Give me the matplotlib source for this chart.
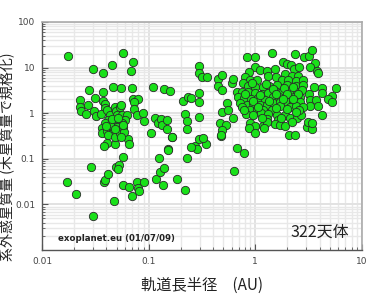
import matplotlib
matplotlib.use('Agg')
import matplotlib.pyplot as plt
from matplotlib.ticker import FixedLocator, LogLocator, NullFormatter

plt.rcParams['font.family'] = ['Noto Sans CJK JP', 'DejaVu Sans']

# 軌道長半径 (AU)
a_au = [
    0.0177, 0.030, 0.037, 0.045, 0.057, 0.072, 0.068, 0.11, 0.14, 0.16,
    0.21, 0.235, 0.22, 0.23, 0.23,
    0.0227, 0.0227, 0.0231, 0.0257, 0.0278, 0.0272, 0.0312, 0.031, 0.0319, 0.0371,
    0.0376, 0.0387, 0.039, 0.0357, 0.046, 0.0547, 0.0698, 0.0707, 0.080, 0.0724,
    0.0733, 0.0773, 0.0879, 0.0898, 0.1045, 0.115, 0.1216, 0.1305, 0.1325, 0.1476,
    0.1476, 0.1665, 0.153, 0.0636, 0.065, 0.0483, 0.041, 0.0384,
    0.0404, 0.0434, 0.0483, 0.0494, 0.0538, 0.0502, 0.0559, 0.0622, 0.060, 0.0559,
    0.0508, 0.046, 0.0419, 0.039, 0.0363, 0.0363, 0.0404, 0.045, 0.0502, 0.046,
    0.0519, 0.0419, 0.0483, 0.0538, 0.0571, 0.0591, 0.0434,
    0.017, 0.0208, 0.0288, 0.0303, 0.0384, 0.0392, 0.0413, 0.0494, 0.0527, 0.052,
    0.0578, 0.0473, 0.0571, 0.0658, 0.0703, 0.0783, 0.080, 0.0818, 0.0904, 0.117,
    0.124, 0.128, 0.135, 0.139, 0.153, 0.1845, 0.219, 0.228,
    0.167, 0.27, 0.284, 0.298, 0.347, 0.476, 0.673, 0.778, 0.627, 0.321,
    0.294, 0.298, 0.316, 0.298, 0.294, 0.298, 0.249, 0.0556, 0.252,
    0.355, 0.45, 0.484, 0.45, 0.49, 0.60, 0.613, 0.669, 0.54, 0.484,
    0.55, 0.622, 0.466, 0.527, 0.49, 0.476,
    0.83, 0.993, 1.43, 2.37, 2.88, 3.21, 3.42, 3.62, 3.26, 3.81, 3.85,
    1.83, 1.97, 2.15, 2.3, 2.55, 0.993, 1.11, 1.28, 1.53, 0.873,
    0.80, 0.891, 1.03, 1.32, 1.56, 1.9, 2.19, 2.53, 1.77, 2.04,
    2.4, 2.82, 0.771, 0.859, 1.0, 1.17, 1.35, 1.61, 1.97, 2.4,
    2.78, 0.745, 0.859, 0.993, 1.15, 1.32, 1.53, 1.77, 2.11, 2.44,
    2.72, 0.693, 0.788, 0.91, 1.07, 1.23, 1.45, 1.68, 1.97, 2.3,
    2.62, 3.2, 3.57, 4.25, 4.2, 5.66, 5.27, 4.83, 5.2,
    0.718, 0.83, 0.957, 1.11, 1.28, 1.47, 1.70, 1.97, 2.27, 2.62,
    3.26, 3.7, 3.26, 3.89, 0.745, 0.891, 1.03, 1.19, 1.42, 1.70,
    2.11, 2.4, 2.78, 0.813, 0.957, 1.13, 1.32, 1.61, 1.90, 2.11,
    2.44, 2.68, 4.2, 1.64, 1.28, 1.53, 1.70, 1.90, 2.21, 0.891,
    0.993, 1.17, 1.30, 0.88, 0.993, 1.21, 3.03, 3.37, 3.14, 3.37,
    2.08, 2.37,
    0.94, 1.25, 1.45, 1.85, 2.25, 0.80, 1.1, 1.55, 2.0, 2.5,
    0.95, 1.35, 1.8, 2.25, 1.05, 1.55, 2.0, 2.55, 1.15, 1.75,
    2.4, 0.78,
    0.045, 0.052, 0.058, 0.048, 0.040, 0.055,
]

# 質量 (木星質量)
m_mj = [
    18, 9.3, 7.6, 11.4, 21, 13, 8.6, 3.8, 3.4, 3.1,
    1.85, 2.3, 0.96, 0.69, 0.44,
    1.9, 1.35, 1.13, 0.96, 3.23, 1.51, 2.12, 1.12, 0.87, 2.87,
    1.88, 1.59, 1.32, 0.95, 3.7, 3.63, 3.63, 2.05, 2.07, 1.73,
    1.24, 0.9, 0.995, 0.69, 0.373, 0.77, 0.6, 0.735, 0.55, 0.71,
    0.457, 0.305, 0.161, 0.268, 0.211, 0.208, 0.225, 0.194,
    1.17, 0.913, 1.39, 1.13, 1.39, 0.913, 0.913, 0.913, 0.71, 0.62,
    0.65, 0.71, 0.71, 0.6, 0.467, 0.362, 0.413, 0.49, 0.506, 0.373,
    0.413, 0.333, 0.305, 0.362, 0.49, 0.393, 0.551,
    0.0315, 0.0166, 0.067, 0.0056, 0.0315, 0.034, 0.0457, 0.067, 0.073, 0.06,
    0.108, 0.012, 0.027, 0.024, 0.0155, 0.0305, 0.0225, 0.02, 0.0305, 0.037,
    0.1025, 0.052, 0.027, 0.062, 0.156, 0.0355, 0.021, 0.1025,
    0.3, 0.19, 0.161, 0.276, 0.208, 0.316, 0.17, 0.136, 0.054, 0.29,
    10.8, 7.7, 6.2, 2.77, 1.76, 0.826, 2.15, 1.54, 0.181,
    6.1, 5.5, 6.9, 3.95, 3.23, 4.66, 5.6, 2.87, 1.65, 1.08,
    1.17, 0.77, 0.6, 0.551, 0.428, 0.333,
    16.8, 16.8, 21.2, 19.6, 17.3, 17.9, 24.3, 12.4, 10.2, 8.55, 7.6,
    13.5, 12, 11.4, 9.3, 10.2, 10.2, 8.86, 8.55, 9.3, 8.1,
    6.1, 5.35, 5.35, 6.55, 6.3, 7.2, 6.65, 6.55, 5.35, 5.35,
    5.08, 5.35, 4.53, 3.95, 3.7, 3.7, 3.95, 4.15, 4.15, 3.95,
    4.15, 2.96, 2.87, 2.73, 2.64, 2.73, 3.11, 2.96, 3.11, 2.96,
    3.23, 2.3, 2.12, 2.02, 2.19, 1.95, 2.23, 2.3, 2.3, 2.3,
    2.23, 2.64, 3.81, 3.63, 2.82, 3.63, 2.42, 2.02, 1.79,
    1.65, 1.51, 1.65, 1.51, 1.51, 1.65, 1.79, 1.79, 1.73, 1.79,
    1.95, 1.95, 1.44, 1.44, 1.35, 1.17, 1.22, 1.17, 1.17, 1.44,
    1.39, 1.44, 1.39, 0.96, 0.913, 0.995, 0.96, 0.913, 0.913, 0.77,
    0.77, 0.913, 0.913, 0.71, 0.735, 0.58, 0.551, 0.524, 0.65, 0.62,
    0.524, 0.524, 0.65, 0.48, 0.373, 0.467, 0.506, 0.444, 0.65, 0.6,
    0.338, 0.338,
    4.6, 4.4, 3.4, 3.6, 3.7, 2.6, 2.45, 2.6, 2.6, 2.6,
    1.85, 1.85, 2.0, 2.0, 1.35, 1.3, 1.25, 1.2, 0.8, 0.8,
    1.05, 1.15,
    0.75, 0.8, 0.55, 0.45, 0.53, 0.30,
]

x_ticks = [0.01, 0.1, 1, 10]
x_tick_labels = ['0.01', '0.1', '1', '10']
y_ticks = [0.01, 0.1, 1, 10, 100]
y_tick_labels = ['0.01', '0.1', '1', '10', '100']

fig = plt.figure(figsize=(3.8, 2.97), dpi=100)
ax = fig.add_axes([0.1105, 0.158, 0.842, 0.768])

ax.scatter(a_au, m_mj, s=36, c='#19e019', edgecolors='#2a2a2a',
           linewidths=0.6, zorder=3)

ax.set_xscale('log')
ax.set_yscale('log')
ax.set_xlim(0.01, 10)
ax.set_ylim(0.001, 100)

ax.xaxis.set_major_locator(FixedLocator(x_ticks))
ax.yaxis.set_major_locator(FixedLocator(y_ticks))
ax.set_xticklabels(x_tick_labels, family='DejaVu Sans', fontsize=6.5, color='#444444')
ax.set_yticklabels(y_tick_labels, family='DejaVu Sans', fontsize=6.5, color='#444444')
ax.xaxis.set_minor_locator(LogLocator(base=10, subs=range(2, 10)))
ax.yaxis.set_minor_locator(LogLocator(base=10, subs=range(2, 10)))
ax.xaxis.set_minor_formatter(NullFormatter())
ax.yaxis.set_minor_formatter(NullFormatter())

ax.tick_params(which='both', direction='in', color='#555555', top=False, right=False)
ax.tick_params(which='major', length=4, width=0.8, pad=5)
ax.tick_params(which='minor', length=2.5, width=0.6)

ax.grid(which='major', color='#e2e2e2', linewidth=1.4, zorder=0)
ax.grid(which='minor', color='#e8e8e8', linewidth=1.0, zorder=0)
ax.set_axisbelow(True)

for side in ['left', 'bottom']:
    ax.spines[side].set_color('#555555')
    ax.spines[side].set_linewidth(1.0)
for side in ['top', 'right']:
    ax.spines[side].set_color('#aaaaaa')
    ax.spines[side].set_linewidth(1.2)

ax.set_xlabel('軌道長半径　(AU)', fontsize=11, color='#222222', labelpad=8)
ax.set_ylabel('系外惑星質量 (木星質量で規格化)', fontsize=10.1, color='#222222')
ax.yaxis.set_label_coords(-0.088, 0.41)

ax.text(0.05, 0.04, 'exoplanet.eu (01/07/09)', transform=ax.transAxes,
        family='DejaVu Sans', fontweight='bold', fontsize=6.2, color='#222222')
ax.text(0.96, 0.06, '322天体', transform=ax.transAxes, ha='right',
        fontsize=11.5, color='#222222')

fig.savefig('out.png', dpi=100)
